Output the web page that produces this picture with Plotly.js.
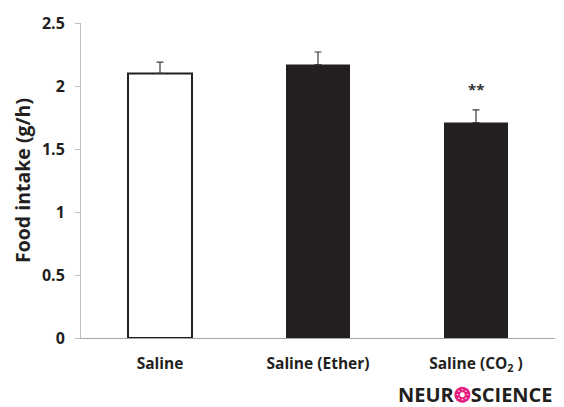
<!DOCTYPE html>
<html><head><meta charset="utf-8">
<script src="https://cdn.plot.ly/plotly-3.0.1.min.js"></script>
<style>html,body{margin:0;padding:0;background:#fff}#chart{width:564px;height:407px}</style>
</head><body><div id="chart"></div>
<script>
var categories = ["Saline", "Saline (Ether)", "Saline (CO<sub>2</sub> )"];
var foodIntake = [2.10, 2.17, 1.71];
var errorUp = [0.09, 0.10, 0.10];
var significance = ["", "", "**"];
var yTicks = [0, 0.5, 1, 1.5, 2, 2.5];
var yTickLabels = ["0", "0.5", "1", "1.5", "2", "2.5"];

var dark = "#231f20";
var trace = {
  type: "bar",
  x: categories,
  y: foodIntake,
  width: 0.405,
  marker: {color: ["#ffffff", dark, dark], line: {color: [dark, dark, dark], width: [2, 0, 0]}},
  error_y: {type: "data", array: errorUp, arrayminus: [0,0,0], symmetric: false, color: "#3a3a3a", thickness: 1.2, width: 3.5},
  hoverinfo: "none"
};
var annotations = [];
for (var i = 0; i < categories.length; i++) {
  if (significance[i]) {
    annotations.push({x: categories[i], y: foodIntake[i] + errorUp[i] + 0.17, xref: "x", yref: "y",
      text: "<b>" + significance[i] + "</b>", showarrow: false, font: {family: "Open Sans, sans-serif", size: 15, color: "#333"}});
  }
}
annotations.push({xref: "paper", yref: "paper", x: 1.0, y: -0.178, xanchor: "right", yanchor: "middle",
  text: "<b>NEUR<span style='color:#e5197e'>❂</span>SCIENCE</b>", showarrow: false,
  font: {family: "Open Sans, sans-serif", size: 20, color: "#231f20"}});

var layout = {
  width: 564, height: 407,
  margin: {l: 81, r: 9, t: 23, b: 69},
  paper_bgcolor: "#fff", plot_bgcolor: "#fff",
  showlegend: false,
  font: {family: "Open Sans, sans-serif", color: "#231f20"},
  xaxis: {
    range: [-0.5, 2.5], showline: true, linecolor: "#a6a6a6", linewidth: 1,
    ticks: "", showgrid: false, zeroline: false, ticklabelstandoff: 11,
    tickfont: {family: "Open Sans, sans-serif", size: 15.5, weight: 700, color: "#231f20"}
  },
  yaxis: {
    range: [0, 2.5], tickvals: yTicks, ticktext: yTickLabels,
    showline: true, linecolor: "#bfbfbf", linewidth: 1, ticks: "outside", ticklen: 5, tickcolor: "#bfbfbf",
    showgrid: false, zeroline: false, ticklabelstandoff: 7,
    tickfont: {family: "Open Sans, sans-serif", size: 16, weight: 700, color: "#231f20"},
    title: {text: "Food intake (g/h)", font: {family: "Open Sans, sans-serif", size: 19.5, weight: 700, color: "#231f20"}, standoff: 6}
  },
  annotations: annotations
};
Plotly.newPlot("chart", [trace], layout, {staticPlot: true});
</script></body></html>
